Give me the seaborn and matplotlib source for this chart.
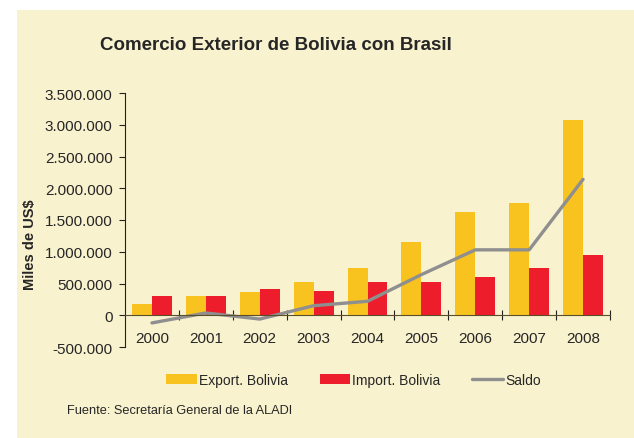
# Comercio Exterior de Bolivia con Brasil
import numpy as np
import pandas as pd
from matplotlib import pyplot as plt
from matplotlib.ticker import FuncFormatter, FixedLocator
from matplotlib.patches import Patch
from matplotlib.lines import Line2D
import seaborn as sns

# data (miles de US$)
years = ['2000', '2001', '2002', '2003', '2004', '2005', '2006', '2007', '2008']
export_bolivia = [185000, 305000, 360000, 527000, 744000, 1161000, 1626000, 1774000, 3077000]
import_bolivia = [306000, 300000, 407000, 380000, 527000, 527000, 602000, 749000, 945000]
saldo = [-121000, 36000, -60000, 150000, 220000, 640000, 1030000, 1030000, 2140000]

bg = '#F8F2CE'
yellow = '#F9C31F'
red = '#EE1D2B'
grey = '#8F8F8F'

# long form table for seaborn
df = pd.DataFrame({
    'year': years * 2,
    'value': export_bolivia + import_bolivia,
    'serie': ['Export. Bolivia'] * len(years) + ['Import. Bolivia'] * len(years),
})

sns.set_style('white')
plt.rcParams['font.family'] = ['Liberation Sans', 'DejaVu Sans']

fig = plt.figure(figsize=(6.34, 4.39), dpi=100, facecolor='white')
# cream panel behind everything
fig.patches.append(plt.Rectangle((17 / 634, 0), 1, (439 - 11) / 439,
                                 transform=fig.transFigure, facecolor=bg,
                                 edgecolor='none', zorder=-10))
ax = fig.add_axes([125 / 634, (439 - 348) / 439, 485 / 634, 254 / 439])
ax.set_facecolor(bg)
ax.patch.set_alpha(0)

sns.barplot(data=df, x='year', y='value', hue='serie',
            palette=[yellow, red], width=0.74, saturation=1,
            edgecolor='none', legend=False, ax=ax)
sns.lineplot(x=np.arange(len(years)), y=saldo, color=grey, linewidth=2.4,
             ax=ax, zorder=5)

ax.set_xlim(-0.5, len(years) - 0.5)
ax.set_ylim(-500000, 3500000)
ax.set_yticks(np.arange(-500000, 3500001, 500000))
ax.yaxis.set_major_formatter(FuncFormatter(lambda v, p: f'{int(v):,}'.replace(',', '.')))

# spines
for s in ['top', 'right']:
    ax.spines[s].set_visible(False)
ax.spines['bottom'].set_position(('data', 0))
ax.spines['bottom'].set_color('#5a4f2a')
ax.spines['left'].set_color('#222222')
ax.spines['bottom'].set_zorder(6)

ax.tick_params(axis='y', direction='out', length=4, width=0.8, color='#222222',
               labelsize=11, pad=5, left=True)
ax.tick_params(axis='x', which='major', length=0, labelsize=11, pad=11)
ax.xaxis.set_minor_locator(FixedLocator(np.arange(0.5, len(years), 1)))
ax.tick_params(axis='x', which='minor', direction='inout', length=7, width=0.8,
               color='#222222', bottom=True)
ax.set_xlabel(None)
ax.set_ylabel('Miles de US$', fontsize=10.5, fontweight='bold')
ax.yaxis.set_label_coords(-0.181, 0.405)

fig.text(276 / 634, 1 - 45 / 439, 'Comercio Exterior de Bolivia con Brasil',
         ha='center', va='center', fontsize=13.5, fontweight='bold')

handles = [
    Patch(facecolor=yellow, edgecolor='none', label='Export. Bolivia'),
    Patch(facecolor=red, edgecolor='none', label='Import. Bolivia'),
    Line2D([], [], color=grey, linewidth=2.4, label='Saldo'),
]
fig.legend(handles=handles, loc='center left', bbox_to_anchor=(166 / 634, 1 - 381 / 439),
           ncol=3, frameon=False, fontsize=10, handlelength=2.2,
           handleheight=0.8, handletextpad=0.15, columnspacing=2.3,
           borderaxespad=0, borderpad=0)

fig.text(67 / 634, 1 - 411 / 439, 'Fuente: Secretaría General de la ALADI',
         ha='left', va='center', fontsize=9.2)

plt.savefig('out.png', dpi=100, facecolor='white')
